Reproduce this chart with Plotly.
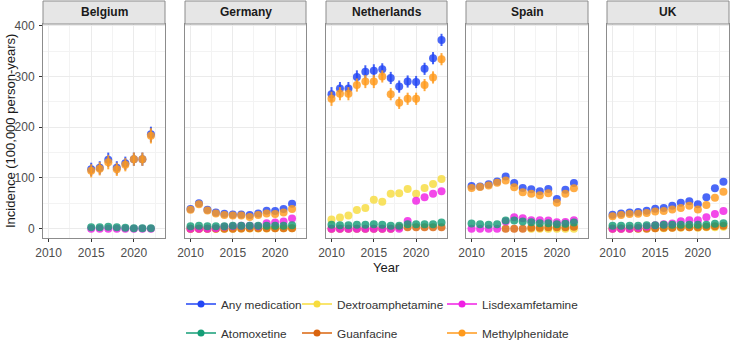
import plotly.graph_objects as go

W, H = 731, 341

COUNTRIES = ["Belgium", "Germany", "Netherlands", "Spain", "UK"]
SERIES = ["Any medication", "Atomoxetine", "Dextroamphetamine", "Guanfacine",
          "Lisdexamfetamine", "Methylphenidate"]
COLORS = {
    "Any medication": "#2246F5",
    "Atomoxetine": "#159E77",
    "Dextroamphetamine": "#F7DC3E",
    "Guanfacine": "#DA640E",
    "Lisdexamfetamine": "#F020E4",
    "Methylphenidate": "#FF9A1C",
}

# ---------------- data ----------------
BE_YEARS = [2015, 2016, 2017, 2018, 2019, 2020, 2021, 2022]
BE_ANY = [117, 120, 136, 120, 129, 137, 137, 186]
BE_ANY_ERR = [13, 13, 14, 13, 13, 13, 13, 15]
BE_MPH = [114, 118, 131, 117, 126, 137, 137, 183]
BE_MPH_ERR = [13, 13, 14, 13, 13, 13, 13, 15]
BE_ATX = [3, 3, 4, 3, 2, 1, 1, 1]
BE_LDX = [0, 0, 0, 0, 0, 0, 0, 0]

DE_YEARS = list(range(2010, 2023))
DE_ANY = [39, 50, 37.5, 32, 29.5, 28, 28, 27, 30, 35.5, 35, 39, 49]
DE_MPH = [37.5, 48, 36, 30, 27, 26, 26, 23, 27, 30, 29, 32, 39]
DE_ATX = [5, 6, 5, 5, 5, 6, 6, 6, 6, 6, 6, 6, 7]
DE_LDX = [0, 0, 0, 1, 4, 5, 6, 6, 5, 11, 12, 14, 20]
DE_GXR = [0, 0, 0, 0, 0, 0, 0.5, 1, 1, 1, 1, 1, 1]
DE_DEX = [0, 0, 0, 0, 0, 0, 0.5, 0.5, 0.5, 0.5, 1, 1, 1]

NL_YEARS = list(range(2010, 2024))
NL_ANY = [265, 276, 276, 299, 309, 311, 314, 297, 280, 290, 289, 315, 336, 372]
NL_ANY_ERR = [14, 13, 13, 13, 13, 13, 12, 12, 12, 12, 12, 12, 12, 12]
NL_MPH = [256, 266, 266, 283, 290, 290, 300, 265, 248, 256, 256, 283, 298, 334]
NL_MPH_ERR = [14, 13, 13, 13, 13, 13, 12, 12, 12, 12, 12, 12, 12, 12]
NL_DEX = [18, 22, 26, 37, 41, 57, 53, 69, 70, 78, 69, 80, 88, 98]
NL_LDX = [0, 0, 0, 0, 0, 0, 0, 0, 0, 15, 55, 62, 69, 74]
NL_ATX = [8, 7, 7, 8, 8, 9, 8, 6, 6, 9, 9, 9, 9, 12]
NL_GXR = [0, 0, 0, 0, 0, 0, 0, 0, 3, 3, 3, 3, 3, 3]

ES_YEARS = list(range(2010, 2023))
ES_ANY = [84, 83, 87.5, 93, 103, 90, 80, 77.5, 74, 78, 58.5, 77, 90]
ES_MPH = [80, 82, 85, 90.5, 95, 81.5, 72, 69, 66, 70, 51, 69, 79.5]
ES_ATX = [10.5, 9, 8, 9, 16, 16, 14, 12.5, 11, 11, 9, 10, 12]
ES_LDX = [0, 0, 0, 0, 14, 22.5, 20.5, 16.5, 16.5, 16, 12.5, 13, 16.5]
ES_GXR = [None, None, None, None, 0, 0, 0, 2, 2, 3, 3, 3, 4]
ES_DEX = [None, None, None, None, None, None, None, 0, 0, 0, 0, 0, 0]

UK_YEARS = list(range(2010, 2024))
UK_ANY = [27.5, 30, 32, 33, 35.5, 39.5, 41, 45, 51, 54, 48, 62, 79.5, 92.5]
UK_MPH = [24.5, 27, 29, 29.5, 31, 34, 35, 38, 41, 45, 38, 46.5, 61, 73]
UK_LDX = [0, 0, 0, 1.5, 4, 7, 9, 10.5, 14.5, 16.5, 16.5, 22.5, 29, 35]
UK_ATX = [6, 6, 6, 6, 7, 7, 8, 8, 8, 8, 8, 8, 10, 11]
UK_GXR = [0, 0, 0, 0, 0, 1, 2, 2, 3, 3, 3, 4, 5, 6]
UK_DEX = [1, 1, 1, 1, 1, 1, 1, 2, 2, 3, 2, 3, 3, 4]

X_TICKS = [2010, 2015, 2020]
Y_TICKS = [0, 100, 200, 300, 400]

PANELS = [
    (BE_YEARS, {"Any medication": (BE_ANY, BE_ANY_ERR), "Atomoxetine": (BE_ATX, None),
                "Lisdexamfetamine": (BE_LDX, None), "Methylphenidate": (BE_MPH, BE_MPH_ERR)}),
    (DE_YEARS, {"Any medication": (DE_ANY, None), "Atomoxetine": (DE_ATX, None),
                "Dextroamphetamine": (DE_DEX, None), "Guanfacine": (DE_GXR, None),
                "Lisdexamfetamine": (DE_LDX, None), "Methylphenidate": (DE_MPH, None)}),
    (NL_YEARS, {"Any medication": (NL_ANY, NL_ANY_ERR), "Atomoxetine": (NL_ATX, None),
                "Dextroamphetamine": (NL_DEX, None), "Guanfacine": (NL_GXR, None),
                "Lisdexamfetamine": (NL_LDX, None), "Methylphenidate": (NL_MPH, NL_MPH_ERR)}),
    (ES_YEARS, {"Any medication": (ES_ANY, None), "Atomoxetine": (ES_ATX, None),
                "Dextroamphetamine": (ES_DEX, None), "Guanfacine": (ES_GXR, None),
                "Lisdexamfetamine": (ES_LDX, None), "Methylphenidate": (ES_MPH, None)}),
    (UK_YEARS, {"Any medication": (UK_ANY, None), "Atomoxetine": (UK_ATX, None),
                "Dextroamphetamine": (UK_DEX, None), "Guanfacine": (UK_GXR, None),
                "Lisdexamfetamine": (UK_LDX, None), "Methylphenidate": (UK_MPH, None)}),
]

DRAW_ORDER = ["Dextroamphetamine", "Guanfacine", "Lisdexamfetamine", "Atomoxetine",
              "Any medication", "Methylphenidate"]

# ---------------- layout geometry (pixels) ----------------
PANEL_X = [(43, 165), (185, 306), (326, 447), (466, 588), (607, 729)]
PANEL_TOP, PANEL_BOTTOM = 24, 238
STRIP_TOP = 1


def px(x):
    return x / W


def py(y):
    return 1 - y / H


def rgba(hexc, a):
    h = hexc.lstrip("#")
    return "rgba(%d,%d,%d,%s)" % (int(h[0:2], 16), int(h[2:4], 16), int(h[4:6], 16), a)


FONT = "Liberation Sans, Arial, sans-serif"
fig = go.Figure()

for i, (years, data) in enumerate(PANELS):
    sfx = "" if i == 0 else str(i + 1)
    for name in DRAW_ORDER:
        if name not in data:
            continue
        vals, err = data[name]
        tr = dict(
            x=years, y=vals, mode="markers", name=name, showlegend=False,
            xaxis="x" + sfx, yaxis="y" + sfx,
            marker=dict(size=8, color=rgba(COLORS[name], 0.82), line=dict(width=0)),
            hoverinfo="x+y+name",
        )
        if err is not None:
            tr["error_y"] = dict(type="data", array=err, visible=True, width=0,
                                 thickness=2, color=rgba(COLORS[name], 0.85))
        fig.add_trace(go.Scatter(**tr))

# legend entries (six single-item legends mimicking ggplot column layout)
LEG_POS = {
    "Any medication": (181, 304), "Atomoxetine": (181, 333),
    "Dextroamphetamine": (297, 304), "Guanfacine": (297, 333),
    "Lisdexamfetamine": (442, 304), "Methylphenidate": (442, 333),
}
legend_layouts = {}
for k, name in enumerate(SERIES):
    lname = "legend" if k == 0 else "legend%d" % (k + 1)
    fig.add_trace(go.Scatter(
        x=[None], y=[None], mode="lines+markers", name=name, legend=lname,
        line=dict(color=COLORS[name], width=1.6),
        marker=dict(size=7, color=COLORS[name]), xaxis="x", yaxis="y",
    ))
    lx, ly = LEG_POS[name]
    legend_layouts[lname] = dict(
        x=px(lx), y=py(ly), xanchor="left", yanchor="middle",
        bgcolor="rgba(0,0,0,0)", borderwidth=0,
        font=dict(family=FONT, size=11.8, color="#333333"),
        itemwidth=30,
    )

axis_common = dict(
    showgrid=True, gridcolor="#EBEBEB", gridwidth=1,
    showline=True, linecolor="#8C8C8C", linewidth=1, mirror=True,
    zeroline=False, ticks="outside", ticklen=3, tickcolor="#333333", tickwidth=1,
    tickfont=dict(family=FONT, size=12, color="#4D4D4D"),
)

layout = dict(
    width=W, height=H, margin=dict(l=0, r=0, t=0, b=0, autoexpand=False),
    paper_bgcolor="white", plot_bgcolor="white",
    font=dict(family=FONT),
    showlegend=True,
)
layout.update(legend_layouts)

shapes, annotations = [], []
for i, (x0, x1) in enumerate(PANEL_X):
    sfx = "" if i == 0 else str(i + 1)
    layout["xaxis" + sfx] = dict(
        axis_common, domain=[px(x0), px(x1)], anchor="y" + sfx,
        range=[2009.35, 2023.65], tickvals=X_TICKS, ticklabelstandoff=1,
        minor=dict(showgrid=True, gridcolor="#F3F3F3", gridwidth=0.6, dtick=2.5, tick0=2010),
    )
    ycfg = dict(
        axis_common, domain=[py(PANEL_BOTTOM), py(PANEL_TOP)], anchor="x" + sfx,
        range=[-18.3, 403.3], tickvals=Y_TICKS, ticklabelstandoff=2,
        minor=dict(showgrid=True, gridcolor="#F3F3F3", gridwidth=0.6, dtick=50, tick0=0),
    )
    if i > 0:
        ycfg.update(showticklabels=False, ticks="", matches="y")
    layout["yaxis" + sfx] = ycfg
    shapes.append(dict(type="rect", xref="paper", yref="paper",
                       x0=px(x0), x1=px(x1), y0=py(PANEL_TOP), y1=py(STRIP_TOP),
                       fillcolor="#E6E6E6", line=dict(color="#8C8C8C", width=1), layer="above"))
    annotations.append(dict(text="<b>%s</b>" % COUNTRIES[i], xref="paper", yref="paper",
                            x=px((x0 + x1) / 2), y=py((PANEL_TOP + STRIP_TOP) / 2),
                            xanchor="center", yanchor="middle", showarrow=False,
                            font=dict(family=FONT, size=12, color="#1A1A1A")))

annotations.append(dict(text="Year", xref="paper", yref="paper", x=px(386), y=py(267),
                        xanchor="center", yanchor="middle", showarrow=False,
                        font=dict(family=FONT, size=13, color="#1A1A1A")))
annotations.append(dict(text="Incidence (100,000 person-years)", xref="paper", yref="paper",
                        x=px(10), y=py(131), xanchor="center", yanchor="middle",
                        textangle=-90, showarrow=False,
                        font=dict(family=FONT, size=13, color="#1A1A1A")))

layout["shapes"] = shapes
layout["annotations"] = annotations
fig.update_layout(**layout)

fig.write_html("out.html")
